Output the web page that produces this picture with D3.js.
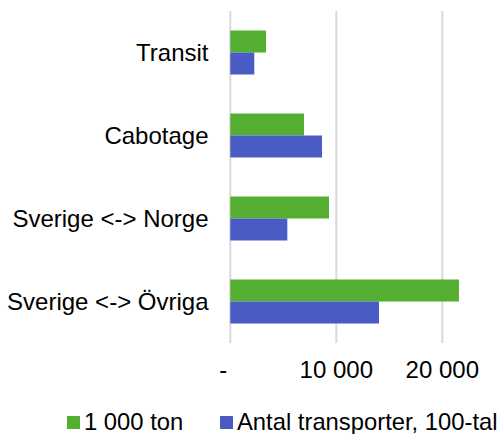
<!DOCTYPE html>
<html>
<head>
<meta charset="utf-8">
<script src="https://cdn.jsdelivr.net/npm/d3@7"></script>
<style>
  body { margin: 0; background: #fff; }
  text { font-family: "Liberation Sans", Arial, sans-serif; fill: #000; }
</style>
</head>
<body>
<svg></svg>
<script>
// data
var categories = ["Transit", "Cabotage", "Sverige <-> Norge", "Sverige <-> Övriga"];
var tonValues = [3370, 6950, 9310, 21570];        // 1 000 ton
var transportValues = [2260, 8650, 5380, 14030];  // Antal transporter, 100-tal
var seriesNames = ["1 000 ton", "Antal transporter, 100-tal"];
var tickValues = [0, 10000, 20000];

var width = 502,
  height = 434,
  colors = ["#53ae32", "#4a5bc4"],
  fmt = function(v) { return v === 0 ? "-" : d3.format(",")(v).replace(/,/g, " "); };

var svg = d3.select("svg")
  .attr("width", width)
  .attr("height", height);

var x = d3.scaleLinear()
  .domain([0, 25000])
  .range([230.3, 495.3]);

var y = d3.scaleBand()
  .domain(categories)
  .range([11, 343])
  .paddingInner(0.47)
  .paddingOuter(0.235);

var sub = d3.scaleBand()
  .domain([0, 1])
  .range([0, y.bandwidth()]);

// gridlines
svg.append("g")
  .selectAll("line")
  .data(tickValues)
  .enter()
  .append("line")
  .attr("x1", function(d) { return x(d); })
  .attr("x2", function(d) { return x(d); })
  .attr("y1", 11)
  .attr("y2", 343)
  .attr("stroke", "#d9d9d9")
  .attr("stroke-width", 2);

// bars
var rows = categories.map(function(c, i) {
  return { cat: c, vals: [tonValues[i], transportValues[i]] };
});

var group = svg.append("g")
  .selectAll("g")
  .data(rows)
  .enter()
  .append("g")
  .attr("transform", function(d) { return "translate(0," + y(d.cat) + ")"; });

group.selectAll("rect")
  .data(function(d) { return d.vals; })
  .enter()
  .append("rect")
  .attr("x", x(0))
  .attr("y", function(d, i) { return sub(i); })
  .attr("width", function(d) { return x(d) - x(0); })
  .attr("height", sub.bandwidth())
  .attr("fill", function(d, i) { return colors[i]; });

// category labels
svg.append("g")
  .selectAll("text")
  .data(categories)
  .enter()
  .append("text")
  .attr("x", 208.5)
  .attr("y", function(d) { return y(d) + y.bandwidth() / 2; })
  .attr("dy", "0.35em")
  .attr("text-anchor", "end")
  .style("font-size", "24px")
  .text(function(d) { return d; });

// x tick labels
svg.append("g")
  .selectAll("text")
  .data(tickValues)
  .enter()
  .append("text")
  .attr("x", function(d) { return x(d); })
  .attr("dx", function(d) { return d === 0 ? -7 : 0; })
  .attr("y", 377.5)
  .attr("text-anchor", "middle")
  .style("font-size", "24px")
  .text(fmt);

// legend
var legendX = [67, 220];
var legend = svg.append("g")
  .selectAll("g")
  .data(seriesNames)
  .enter()
  .append("g")
  .attr("transform", function(d, i) { return "translate(" + legendX[i] + ",416)"; });

legend.append("rect")
  .attr("width", 13)
  .attr("height", 13)
  .attr("fill", function(d, i) { return colors[i]; });

legend.append("text")
  .attr("x", 17)
  .attr("y", 14)
  .style("font-size", "23.8px")
  .text(function(d) { return d; });
</script>
</body>
</html>
